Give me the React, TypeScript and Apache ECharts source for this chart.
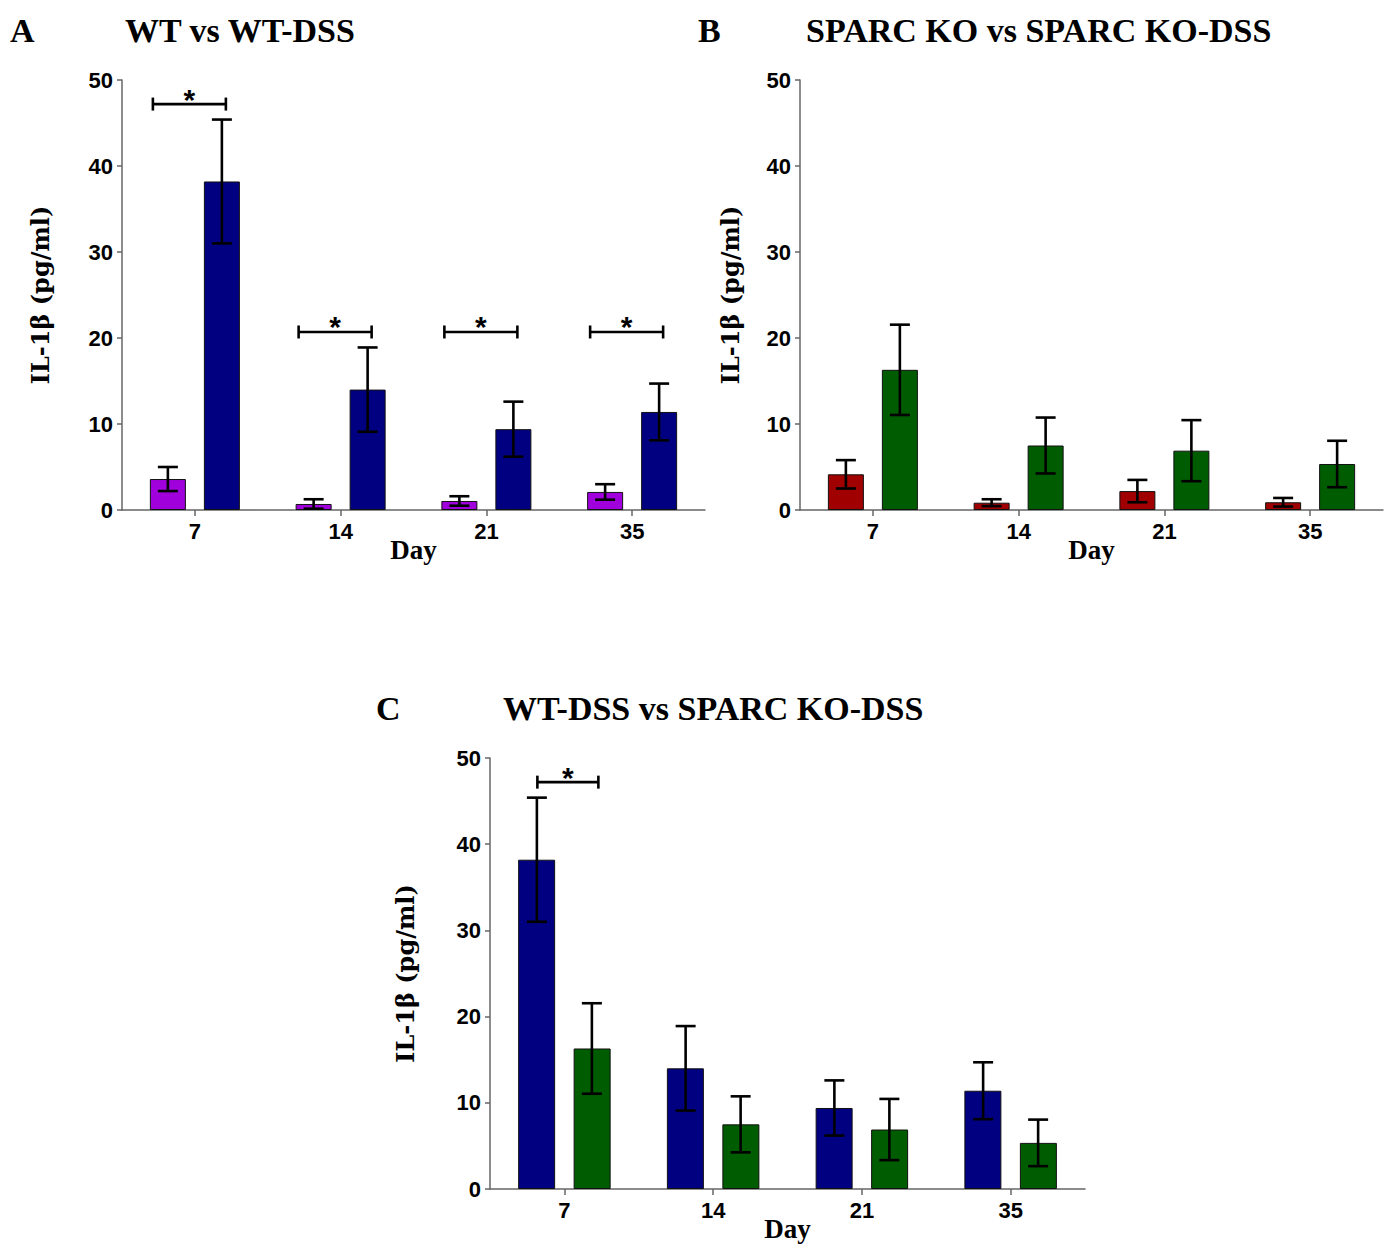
import React, { useEffect, useRef } from "react";
import * as echarts from "echarts";

// ---- data ----
const days = ["7", "14", "21", "35"];
const wt = [3.6, 0.7, 1.05, 2.1];
const wtErr = [1.4, 0.55, 0.55, 0.9];
const wtDss = [38.2, 14.0, 9.4, 11.4];
const wtDssErr = [7.2, 4.9, 3.2, 3.3];
const ko = [4.15, 0.85, 2.2, 0.9];
const koErr = [1.65, 0.4, 1.3, 0.5];
const koDss = [16.3, 7.5, 6.9, 5.35];
const koDssErr = [5.25, 3.25, 3.55, 2.7];
// significance brackets (day index, height)
const sigAIdx = [0, 1, 2, 3];
const sigAHeight = [47.2, 20.7, 20.7, 20.7];
const sigCIdx = [0];
const sigCHeight = [47.2];

const COLORS = {
  wt: "#a000dc",
  wtDss: "#000080",
  ko: "#a00000",
  koDss: "#005c00",
};

const errData = (vals: number[], errs: number[]) =>
  vals.map((v, i) => [i, v - errs[i], v + errs[i]]);

const errRender = (offset: number) => (params: any, api: any) => {
  const i = api.value(0);
  const lo = api.coord([i, api.value(1)]);
  const hi = api.coord([i, api.value(2)]);
  const x = lo[0] + offset;
  const style = { stroke: "#000", lineWidth: 2.6, fill: "none" };
  return {
    type: "group",
    children: [
      { type: "line", shape: { x1: x, y1: lo[1], x2: x, y2: hi[1] }, style },
      { type: "line", shape: { x1: x - 10, y1: hi[1], x2: x + 10, y2: hi[1] }, style },
      { type: "line", shape: { x1: x - 10, y1: lo[1], x2: x + 10, y2: lo[1] }, style },
    ],
  };
};

const sigRender = (left: number, right: number) => (params: any, api: any) => {
  const p = api.coord([api.value(0), api.value(1)]);
  const x1 = p[0] + left;
  const x2 = p[0] + right;
  const y = p[1];
  const style = { stroke: "#000", lineWidth: 2.6, fill: "none" };
  return {
    type: "group",
    children: [
      { type: "line", shape: { x1, y1: y, x2, y2: y }, style },
      { type: "line", shape: { x1, y1: y - 6.5, x2: x1, y2: y + 6.5 }, style },
      { type: "line", shape: { x1: x2, y1: y - 6.5, x2, y2: y + 6.5 }, style },
      {
        type: "text",
        x: (x1 + x2) / 2,
        y: y - 5,
        style: {
          text: "*",
          font: 'bold 30px "Liberation Sans", Arial, sans-serif',
          align: "center",
          verticalAlign: "middle",
          fill: "#000",
        },
      },
    ],
  };
};

const AXIS_COLOR = "#666";
const tickFont = {
  fontFamily: '"Liberation Sans", Arial, sans-serif',
  fontWeight: "bold" as const,
  fontSize: 22,
  color: "#000",
};

const makeX = (gridIndex: number) => ({
  type: "category",
  gridIndex,
  data: days,
  name: "Day",
  nameLocation: "middle",
  nameGap: 26,
  nameMoveOverlap: false,
  nameTextStyle: {
    fontFamily: '"Liberation Serif", "Times New Roman", serif',
    fontWeight: "bold",
    fontSize: 27,
    color: "#000",
  },
  axisLine: { show: true, lineStyle: { color: AXIS_COLOR, width: 1.5 } },
  axisTick: { show: true, alignWithLabel: true, length: 6, lineStyle: { color: AXIS_COLOR, width: 1.5 } },
  axisLabel: { margin: 10, ...tickFont },
  splitLine: { show: false },
});

const makeY = (gridIndex: number, nameGap: number) => ({
  type: "value",
  gridIndex,
  min: 0,
  max: 50,
  interval: 10,
  name: "IL-1β (pg/ml)",
  nameLocation: "middle",
  nameGap,
  nameMoveOverlap: false,
  nameRotate: 90,
  nameTextStyle: {
    fontFamily: '"DejaVu Serif", serif',
    fontWeight: "bold",
    fontSize: 24,
    color: "#000",
  },
  axisLine: { show: true, lineStyle: { color: AXIS_COLOR, width: 1.5 } },
  axisTick: { show: true, length: 5, lineStyle: { color: AXIS_COLOR, width: 1.5 } },
  axisLabel: { margin: 9, ...tickFont },
  splitLine: { show: false },
});

const barSeries = (name: string, data: number[], color: string, idx: number, width: number) => ({
  type: "bar",
  name,
  data,
  xAxisIndex: idx,
  yAxisIndex: idx,
  barWidth: width,
  barGap: "50%",
  itemStyle: { color, borderColor: "#111", borderWidth: 1 },
  z: 2,
});

const errSeries = (vals: number[], errs: number[], idx: number, offset: number) => ({
  type: "custom",
  xAxisIndex: idx,
  yAxisIndex: idx,
  data: errData(vals, errs),
  encode: { x: 0, y: [1, 2] },
  renderItem: errRender(offset),
  clip: false,
  z: 5,
});

const sigSeries = (idxs: number[], heights: number[], axis: number, left: number, right: number) => ({
  type: "custom",
  xAxisIndex: axis,
  yAxisIndex: axis,
  data: idxs.map((d, i) => [d, heights[i]]),
  encode: { x: 0, y: 1 },
  renderItem: sigRender(left, right),
  clip: false,
  z: 5,
});

const titleFont = 'bold 34px "Liberation Serif", "Times New Roman", serif';
const titleText = (text: string, x: number, y: number) => ({
  type: "text",
  x,
  y,
  style: { text, font: titleFont, fill: "#000", align: "left", verticalAlign: "middle" },
});

export default function App() {
  const ref = useRef<HTMLDivElement>(null);
  useEffect(() => {
    if (!ref.current) return;
    const chart = echarts.init(ref.current, undefined, { renderer: "svg" });
    chart.setOption({
      animation: false,
      backgroundColor: "#fff",
      grid: [
        { left: 122, top: 80, width: 583, height: 430, containLabel: false, outerBoundsMode: "none" },
        { left: 800, top: 80, width: 583, height: 430, containLabel: false, outerBoundsMode: "none" },
        { left: 490, top: 758, width: 595, height: 431, containLabel: false, outerBoundsMode: "none" },
      ],
      xAxis: [makeX(0), makeX(1), makeX(2)],
      yAxis: [makeY(0, 70), makeY(1, 58), makeY(2, 73)],
      graphic: [
        titleText("A", 10, 30),
        titleText("WT vs WT-DSS", 125, 30),
        titleText("B", 698, 30),
        titleText("SPARC KO vs SPARC KO-DSS", 806, 30),
        titleText("C", 376, 708),
        titleText("WT-DSS vs SPARC KO-DSS", 503, 708),
      ],
      series: [
        barSeries("WT", wt, COLORS.wt, 0, 36),
        barSeries("WT-DSS", wtDss, COLORS.wtDss, 0, 36),
        errSeries(wt, wtErr, 0, -27),
        errSeries(wtDss, wtDssErr, 0, 27),
        sigSeries(sigAIdx, sigAHeight, 0, -42, 31),

        barSeries("SPARC KO", ko, COLORS.ko, 1, 36),
        barSeries("SPARC KO-DSS", koDss, COLORS.koDss, 1, 36),
        errSeries(ko, koErr, 1, -27),
        errSeries(koDss, koDssErr, 1, 27),

        barSeries("WT-DSS", wtDss, COLORS.wtDss, 2, 37),
        barSeries("SPARC KO-DSS", koDss, COLORS.koDss, 2, 37),
        errSeries(wtDss, wtDssErr, 2, -27.5),
        errSeries(koDss, koDssErr, 2, 27.5),
        sigSeries(sigCIdx, sigCHeight, 2, -27, 34),
      ],
    });
    return () => chart.dispose();
  }, []);
  return (
    <div
      ref={ref}
      style={{ position: "absolute", left: 0, top: 0, width: 1399, height: 1244, background: "#fff" }}
    />
  );
}
